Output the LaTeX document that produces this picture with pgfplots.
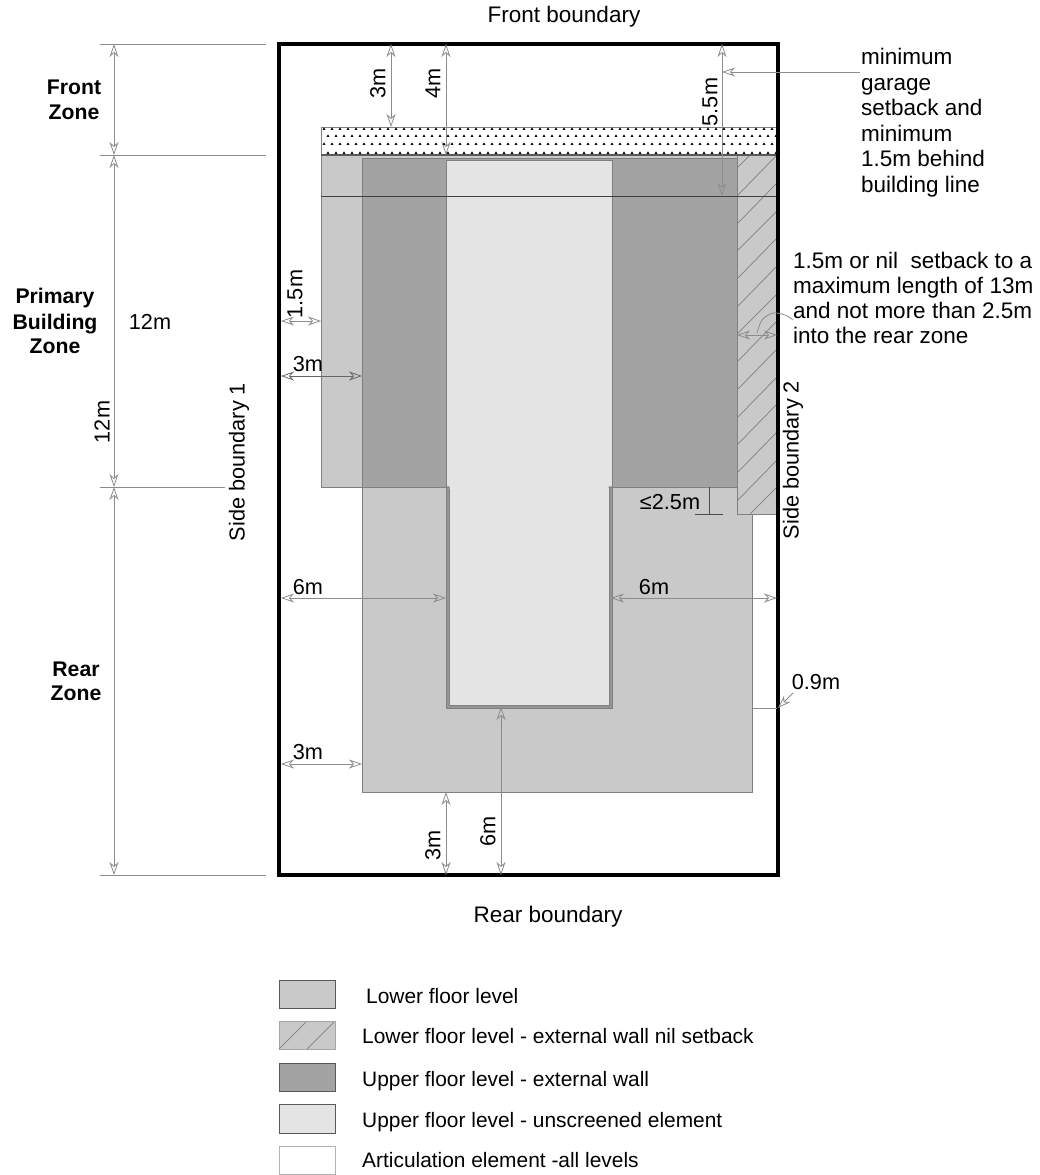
\documentclass[border=0pt]{standalone}
\usepackage{fontspec}
\setmainfont{Liberation Sans}
\usepackage{pgfplots}
\pgfplotsset{compat=1.18}
\usetikzlibrary{arrows.meta}
\definecolor{lower}{HTML}{C9C9C9}
\definecolor{upper}{HTML}{A3A3A3}
\definecolor{unscr}{HTML}{E4E4E4}
\definecolor{edge}{HTML}{808080}
\definecolor{dimc}{HTML}{8C8C8C}
\tikzset{
    openhead/.tip={Stealth[open,length=13pt,width=9pt,inset=4pt,line width=.8pt]},
    txt/.style={inner sep=0pt,font=\fontsize{21.7}{25}\selectfont},
    big/.style={inner sep=0pt,font=\fontsize{22.5}{25}\selectfont},
    btxt/.style={inner sep=0pt,anchor=base,font=\fontsize{21.2}{25}\selectfont\bfseries},
    rtxt/.style={txt,rotate=90},
    ltxt/.style={big,anchor=base west},
    lgd/.style={inner sep=0pt,anchor=base west,font=\fontsize{20.9}{25}\selectfont},
}
\pgfplotsset{
    box/.style={draw=edge,line width=.9pt},
    dim/.style={dimc,line width=.8pt,{openhead}-{openhead}},
    one/.style={dimc,line width=.8pt,-{openhead}},
    ext/.style={dimc,line width=.9pt},
    hatch/.style={edge,line width=.7pt,unbounded coords=jump},
}
\begin{document}
\begin{tikzpicture}
\begin{axis}[
    scale only axis,
    width=1040pt,height=1175pt,
    xmin=0,xmax=1040,ymin=0,ymax=1175,
    y dir=reverse,
    hide axis,
    clip=false,
]
% keeps the page as large as the whole axis
\addplot[draw=none] coordinates {(0,0) (1040,1175)};
% lower floor and rear part
\addplot[box,fill=lower] coordinates {(362,487) (752,487) (752,792) (362,792)} --cycle;
\addplot[box,fill=lower] coordinates {(321,155) (737,155) (737,487) (321,487)} --cycle;
% hatched wall
\addplot[box,fill=lower] coordinates {(737,155) (777,155) (777,514) (737,514)} --cycle;
\addplot[hatch] coordinates {(737,168) (750,155) (nan,nan) (737,196) (777,155) (nan,nan) (737,224) (777,183) (nan,nan) (737,251) (777,211) (nan,nan) (737,279) (777,238) (nan,nan) (737,307) (777,266) (nan,nan) (737,334) (777,294) (nan,nan) (737,362) (777,321) (nan,nan) (737,390) (777,349) (nan,nan) (737,418) (777,377) (nan,nan) (737,445) (777,404) (nan,nan) (737,473) (777,432) (nan,nan) (737,501) (777,460) (nan,nan) (750,514) (777,487)};
% upper floor
\addplot[box,fill=upper] coordinates {(362,158) (737,158) (737,487) (362,487)} --cycle;
% unscreened element with the double line
\addplot[draw=edge,line width=1pt,fill=edge!70!lower] coordinates {(446,487) (612,487) (612,708) (446,708)} --cycle;
\addplot[draw=edge,line width=.8pt,fill=unscr] coordinates {(449,487) (609,487) (609,705) (449,705)} --cycle;
\addplot[draw=edge,line width=1pt] coordinates {(609,487) (737,487)};
\addplot[draw=edge,line width=1pt] coordinates {(362,487) (449,487)};
\addplot[draw=none,fill=unscr] coordinates {(446,160) (612,160) (612,486) (608.5,486) (608.5,489) (449.5,489) (449.5,486) (446,486)} --cycle;
\addplot[box] coordinates {(446,487) (446,160) (612,160) (612,487)};
% gravel strip
\addplot[draw=none,fill=white] coordinates {(321,127) (777,127) (777,155) (321,155)} --cycle;
\addplot[only marks,mark=triangle*,mark size=1.25pt,mark options={draw=none,fill=black!50}] coordinates {
(324,129)(332,129)(340,129)(348,129)(356,129)(364,129)(372,129)(380,129)(388,129)(396,129)(404,129)(412,129)(420,129)(428,129)(436,129)(444,129)(452,129)(460,129)(468,129)(476,129)(484,129)(492,129)(500,129)(508,129)(516,129)(524,129)(532,129)(540,129)(548,129)(556,129)(564,129)(572,129)(580,129)(588,129)(596,129)(604,129)(612,129)(620,129)(628,129)(636,129)(644,129)(652,129)(660,129)(668,129)(676,129)(684,129)(692,129)(700,129)(708,129)(716,129)(724,129)(732,129)(740,129)(748,129)(756,129)(764,129)(772,129)
(328,136)(336,136)(344,136)(352,136)(360,136)(368,136)(376,136)(384,136)(392,136)(400,136)(408,136)(416,136)(424,136)(432,136)(440,136)(448,136)(456,136)(464,136)(472,136)(480,136)(488,136)(496,136)(504,136)(512,136)(520,136)(528,136)(536,136)(544,136)(552,136)(560,136)(568,136)(576,136)(584,136)(592,136)(600,136)(608,136)(616,136)(624,136)(632,136)(640,136)(648,136)(656,136)(664,136)(672,136)(680,136)(688,136)(696,136)(704,136)(712,136)(720,136)(728,136)(736,136)(744,136)(752,136)(760,136)(768,136)(776,136)
(324,144)(332,144)(340,144)(348,144)(356,144)(364,144)(372,144)(380,144)(388,144)(396,144)(404,144)(412,144)(420,144)(428,144)(436,144)(444,144)(452,144)(460,144)(468,144)(476,144)(484,144)(492,144)(500,144)(508,144)(516,144)(524,144)(532,144)(540,144)(548,144)(556,144)(564,144)(572,144)(580,144)(588,144)(596,144)(604,144)(612,144)(620,144)(628,144)(636,144)(644,144)(652,144)(660,144)(668,144)(676,144)(684,144)(692,144)(700,144)(708,144)(716,144)(724,144)(732,144)(740,144)(748,144)(756,144)(764,144)(772,144)
(328,153)(336,153)(344,153)(352,153)(360,153)(368,153)(376,153)(384,153)(392,153)(400,153)(408,153)(416,153)(424,153)(432,153)(440,153)(448,153)(456,153)(464,153)(472,153)(480,153)(488,153)(496,153)(504,153)(512,153)(520,153)(528,153)(536,153)(544,153)(552,153)(560,153)(568,153)(576,153)(584,153)(592,153)(600,153)(608,153)(616,153)(624,153)(632,153)(640,153)(648,153)(656,153)(664,153)(672,153)(680,153)(688,153)(696,153)(704,153)(712,153)(720,153)(728,153)(736,153)(744,153)(752,153)(760,153)(768,153)(776,153)
};
\addplot[edge,line width=.9pt] coordinates {(321,155) (321,127) (777,127)};
\addplot[edge!70!black,line width=1.1pt] coordinates {(321,155) (777,155)};
% building line
\addplot[black!75,line width=.7pt] coordinates {(321,196) (777,196)};
% site boundary
\addplot[black,line width=3.5pt,line join=miter] coordinates {(279,44) (778,44) (778,875) (279,875)} --cycle;
% extension lines
\addplot[ext] coordinates {(100,44) (266,44)};
\addplot[ext] coordinates {(100,155) (266,155)};
\addplot[ext] coordinates {(100,487) (225,487)};
\addplot[ext] coordinates {(100,875) (266,875)};
% dimensions
\addplot[dim] coordinates {(114,44) (114,155)};
\addplot[dim] coordinates {(114,155) (114,487)};
\addplot[dim] coordinates {(114,487) (114,875)};
\addplot[dim] coordinates {(391,44) (391,127)};
\addplot[dim] coordinates {(446,44) (446,155)};
\addplot[dim] coordinates {(722,44) (722,196)};
\addplot[one] coordinates {(860,72) (722,72)};
\addplot[dim] coordinates {(281,321) (321,321)};
\addplot[dim,black!60] coordinates {(281,376) (362,376)};
\addplot[dim] coordinates {(737,335) (777,335)};
\addplot[dimc,line width=.8pt,smooth] coordinates {(793,320) (785,315) (773,313) (762,320) (757,333)};
\addplot[black!70,line width=.7pt] coordinates {(709,487) (709,514)};
\addplot[black!70,line width=.7pt] coordinates {(695,514) (723,514)};
\addplot[dim] coordinates {(281,598) (446,598)};
\addplot[dim] coordinates {(611,598) (777,598)};
\addplot[dim] coordinates {(281,764) (362,764)};
\addplot[dim] coordinates {(501,707) (501,875)};
\addplot[dim] coordinates {(446,792) (446,875)};
\addplot[ext] coordinates {(752,708) (777,708)};
\addplot[one] coordinates {(793,693) (778,708)};
% legend swatches
\addplot[draw=black!65,line width=.9pt,fill=lower] coordinates {(279,980) (335,980) (335,1008) (279,1008)} --cycle;
\addplot[draw=black!35,line width=.9pt,fill=lower] coordinates {(279,1021) (335,1021) (335,1049) (279,1049)} --cycle;
\addplot[hatch] coordinates {(279,1049) (306,1022) (nan,nan) (307,1049) (334,1022)};
\addplot[draw=black!65,line width=.9pt,fill=upper] coordinates {(279,1063) (335,1063) (335,1091) (279,1091)} --cycle;
\addplot[draw=black!65,line width=.9pt,fill=unscr] coordinates {(279,1104) (335,1104) (335,1133) (279,1133)} --cycle;
\addplot[draw=black!30,line width=.9pt,fill=white] coordinates {(279,1146) (335,1146) (335,1174) (279,1174)} --cycle;
% texts
\node[big] at (axis cs:564,17) {Front boundary};
\node[big] at (axis cs:548,917) {Rear boundary};
\node[btxt] at (axis cs:74,94) {Front};
\node[btxt] at (axis cs:74,119) {Zone};
\node[btxt] at (axis cs:55,303) {Primary};
\node[btxt] at (axis cs:55,329) {Building};
\node[btxt] at (axis cs:55,353) {Zone};
\node[btxt] at (axis cs:76,676) {Rear};
\node[btxt] at (axis cs:76,700) {Zone};
\node[txt] at (axis cs:150,322) {12m};
\node[rtxt] at (axis cs:102,422) {12m};
\node[rtxt] at (axis cs:239,462) {Side boundary 1};
\node[rtxt] at (axis cs:793,460) {Side boundary 2};
\node[rtxt] at (axis cs:378,83) {3m};
\node[rtxt] at (axis cs:433,83) {4m};
\node[rtxt] at (axis cs:710,102) {5.5m};
\node[rtxt] at (axis cs:295,294) {1.5m};
\node[txt] at (axis cs:308,364) {3m};
\node[txt] at (axis cs:670,502) {≤2.5m};
\node[txt] at (axis cs:308,587) {6m};
\node[txt] at (axis cs:654,587) {6m};
\node[txt] at (axis cs:308,752) {3m};
\node[txt] at (axis cs:816,682) {0.9m};
\node[rtxt] at (axis cs:433,845) {3m};
\node[rtxt] at (axis cs:488,831) {6m};
\node[ltxt] at (axis cs:861,64) {minimum};
\node[ltxt] at (axis cs:861,90) {garage};
\node[ltxt] at (axis cs:861,115) {setback and};
\node[ltxt] at (axis cs:861,141) {minimum};
\node[ltxt] at (axis cs:861,166) {1.5m behind};
\node[ltxt] at (axis cs:861,192) {building line};
\node[ltxt] at (axis cs:793,268) {1.5m or nil\ \ setback to a};
\node[ltxt] at (axis cs:793,293) {maximum length of 13m};
\node[ltxt] at (axis cs:793,318) {and not more than 2.5m};
\node[ltxt] at (axis cs:793,343) {into the rear zone};
\node[lgd] at (axis cs:366,1003) {Lower floor level};
\node[lgd] at (axis cs:362,1043) {Lower floor level - external wall nil setback};
\node[lgd] at (axis cs:362,1086) {Upper floor level - external wall};
\node[lgd] at (axis cs:362,1127) {Upper floor level - unscreened element};
\node[lgd] at (axis cs:362,1167) {Articulation element -all levels};
\end{axis}
\end{tikzpicture}
\end{document}
